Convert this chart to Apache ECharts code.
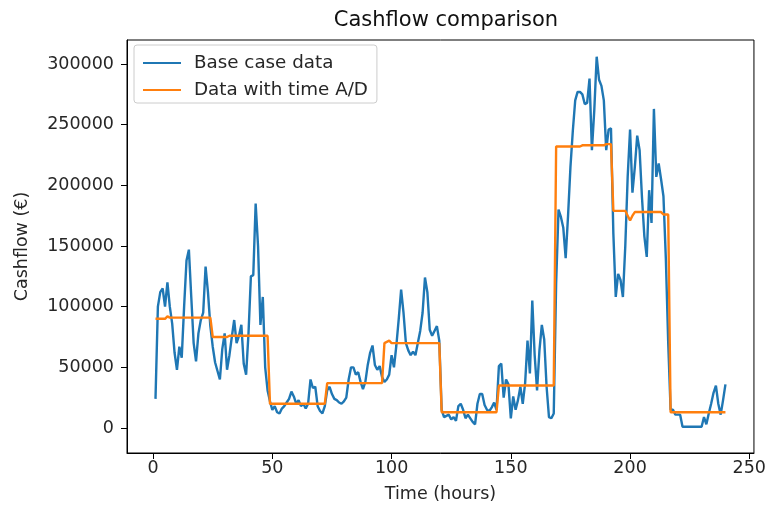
<!DOCTYPE html>
<html>
<head>
<meta charset="utf-8">
<title>Cashflow comparison</title>
<script src="https://cdn.jsdelivr.net/npm/echarts@6/dist/echarts.min.js"></script>
<style>
  html, body { margin: 0; padding: 0; background: #fff; }
  #chart { width: 769px; height: 509px; }
</style>
</head>
<body>
<div id="chart"></div>
<script>
// Hourly cashflow (EUR), hours 1..240
const hours = Array.from({ length: 240 }, (_, i) => i + 1);

const baseCase = [
  // 1-24
  24000, 100000, 112000, 115000, 100000, 120000, 100000, 86000, 62000, 48000, 67000, 58000,
  100000, 138000, 147000, 108000, 70000, 55000, 78000, 89000, 95000, 133000, 112000, 84000,
  // 25-48
  67000, 54000, 47000, 40000, 65000, 78000, 48000, 60000, 75000, 89000, 70000, 76000,
  85000, 53000, 44000, 78000, 125000, 126000, 185000, 150000, 85000, 108000, 50000, 31000,
  // 49-72
  22000, 15000, 18000, 13000, 12000, 16000, 18000, 21000, 24000, 30000, 26000, 20000,
  23000, 18000, 20000, 16000, 20000, 40000, 33000, 34000, 18000, 14000, 12000, 18000,
  // 73-96
  31000, 34000, 28000, 24000, 23000, 21000, 20000, 22000, 25000, 40000, 50000, 50000,
  44000, 46000, 38000, 32000, 38000, 52000, 62000, 68000, 52000, 48000, 51000, 42000,
  // 97-120
  38000, 40000, 44000, 60000, 50000, 68000, 90000, 114000, 95000, 70000, 64000, 60000,
  63000, 60000, 70000, 80000, 95000, 124000, 112000, 81000, 76000, 80000, 84000, 72000,
  // 121-144
  15000, 9000, 10000, 11000, 7000, 9000, 6000, 18000, 20000, 15000, 8000, 11000,
  8000, 5000, 3000, 20000, 28000, 28000, 19000, 15000, 14000, 17000, 21000, 15000,
  // 145-168
  51000, 53000, 25000, 40000, 36000, 8000, 26000, 15000, 23000, 34000, 20000, 37000,
  72000, 45000, 105000, 60000, 31000, 64000, 85000, 73000, 34000, 9000, 8000, 12000,
  // 169-192
  119000, 180000, 174000, 165000, 140000, 175000, 215000, 245000, 270000, 277000, 277000, 275000,
  267000, 268000, 288000, 229000, 262000, 306000, 287000, 282000, 270000, 229000, 246000, 247000,
  // 193-216
  160000, 108000, 127000, 122000, 108000, 150000, 207000, 246000, 194000, 215000, 241000, 229000,
  190000, 158000, 141000, 196000, 169000, 263000, 207000, 218000, 205000, 191000, 140000, 70000,
  // 217-240
  15000, 15000, 11000, 11000, 11000, 1000, 1000, 1000, 1000, 1000, 1000, 1000,
  1000, 1000, 9000, 3000, 12000, 20000, 29000, 35000, 20000, 11000, 23000, 36000
];

const timeAD = [
  // 1-24
  90000, 90000, 90000, 90000, 90000, 92000, 91000, 91000, 91000, 91000, 91000, 91000,
  91000, 91000, 91000, 91000, 91000, 91000, 91000, 91000, 91000, 91000, 91000, 91000,
  // 25-48
  75000, 75000, 75000, 75000, 75000, 75000, 75000, 76000, 76000, 76000, 76000, 76000,
  76000, 76000, 76000, 76000, 76000, 76000, 76000, 76000, 76000, 76000, 76000, 76000,
  // 49-72
  20000, 20000, 20000, 20000, 20000, 20000, 20000, 20000, 20000, 20000, 20000, 20000,
  20000, 20000, 20000, 20000, 20000, 20000, 20000, 20000, 20000, 20000, 20000, 20000,
  // 73-96
  37000, 37000, 37000, 37000, 37000, 37000, 37000, 37000, 37000, 37000, 37000, 37000,
  37000, 37000, 37000, 37000, 37000, 37000, 37000, 37000, 37000, 37000, 37000, 37000,
  // 97-120
  70000, 71000, 72000, 70000, 70000, 70000, 70000, 70000, 70000, 70000, 70000, 70000,
  70000, 70000, 70000, 70000, 70000, 70000, 70000, 70000, 70000, 70000, 70000, 70000,
  // 121-144
  13000, 13000, 13000, 13000, 13000, 13000, 13000, 13000, 13000, 13000, 13000, 13000,
  13000, 13000, 13000, 13000, 13000, 13000, 13000, 13000, 13000, 13000, 13000, 13000,
  // 145-168
  35000, 35000, 35000, 35000, 35000, 35000, 35000, 35000, 35000, 35000, 35000, 35000,
  35000, 35000, 35000, 35000, 35000, 35000, 35000, 35000, 35000, 35000, 35000, 35000,
  // 169-192
  232000, 232000, 232000, 232000, 232000, 232000, 232000, 232000, 232000, 232000, 232000, 233000,
  233000, 233000, 233000, 233000, 233000, 233000, 233000, 233000, 233000, 234000, 234000, 234000,
  // 193-216
  179000, 179000, 179000, 179000, 179000, 179000, 175000, 171000, 175000, 178000, 178000, 178000,
  178000, 178000, 178000, 178000, 178000, 178000, 178000, 178000, 178000, 176000, 176000, 176000,
  // 217-240
  13000, 13000, 13000, 13000, 13000, 13000, 13000, 13000, 13000, 13000, 13000, 13000,
  13000, 13000, 13000, 13000, 13000, 13000, 13000, 13000, 13000, 13000, 13000, 13000
];

const xTicks = [0, 50, 100, 150, 200, 250];
const yTicks = [0, 50000, 100000, 150000, 200000, 250000, 300000];

const seriesNames = ['Base case data', 'Data with time A/D'];
const seriesColors = ['#1f77b4', '#ff7f0e'];

const FONT = 'DejaVu Sans';
const TEXT = '#262626';
const FS = 17.5;

const chart = echarts.init(document.getElementById('chart'), null, { renderer: 'canvas' });

const pairs = (ys) => hours.map((h, i) => [h, ys[i]]);

chart.setOption({
  animation: false,
  backgroundColor: '#ffffff',
  title: {
    text: 'Cashflow comparison',
    left: 441,
    top: 5,
    textAlign: 'center',
    textStyle: { fontFamily: FONT, fontSize: 21, fontWeight: 'normal', color: '#111' }
  },
  grid: {
    left: 127, right: 14, top: 40, bottom: 56,
    show: true, borderColor: '#000', borderWidth: 1, backgroundColor: 'transparent'
  },
  legend: {
    orient: 'vertical',
    left: 134,
    top: 45,
    padding: [9, 9, 4, 8],
    itemGap: 9,
    itemWidth: 38,
    itemHeight: 18,
    backgroundColor: 'rgba(255,255,255,0.8)',
    borderColor: '#cccccc',
    borderWidth: 1,
    borderRadius: 3,
    itemStyle: { opacity: 0 },
    textStyle: { fontFamily: FONT, fontSize: 18.3, lineHeight: 18, color: TEXT, padding: [0, 0, 0, 8] },
    data: seriesNames
  },
  xAxis: {
    type: 'value',
    min: -10.95,
    max: 251.95,
    name: 'Time (hours)',
    nameLocation: 'middle',
    nameGap: 32,
    nameTextStyle: { fontFamily: FONT, fontSize: FS, color: TEXT },
    axisLine: { show: true, onZero: false, lineStyle: { color: '#000', width: 1 } },
    axisTick: { show: true, inside: false, length: 6, customValues: xTicks, lineStyle: { color: '#000' } },
    axisLabel: { customValues: xTicks, margin: 6, fontFamily: FONT, fontSize: FS, color: TEXT },
    splitLine: { show: false }
  },
  yAxis: {
    type: 'value',
    min: -20600,
    max: 319800,
    name: 'Cashflow (€)',
    nameLocation: 'middle',
    nameGap: 96,
    nameRotate: 90,
    nameTextStyle: { fontFamily: FONT, fontSize: FS, color: TEXT },
    axisLine: { show: true, onZero: false, lineStyle: { color: '#000', width: 1 } },
    axisTick: { show: true, inside: false, length: 6, customValues: yTicks, lineStyle: { color: '#000' } },
    axisLabel: {
      customValues: yTicks, margin: 13, fontFamily: FONT, fontSize: FS, color: TEXT,
      formatter: (v) => String(v)
    },
    splitLine: { show: false }
  },
  series: [
    {
      name: seriesNames[0],
      type: 'line',
      data: pairs(baseCase),
      symbol: 'none',
      color: seriesColors[0],
      lineStyle: { color: seriesColors[0], width: 2.4 },
      z: 2
    },
    {
      name: seriesNames[1],
      type: 'line',
      data: pairs(timeAD),
      symbol: 'none',
      color: seriesColors[1],
      lineStyle: { color: seriesColors[1], width: 2.4 },
      z: 3
    }
  ]
});
</script>
</body>
</html>
